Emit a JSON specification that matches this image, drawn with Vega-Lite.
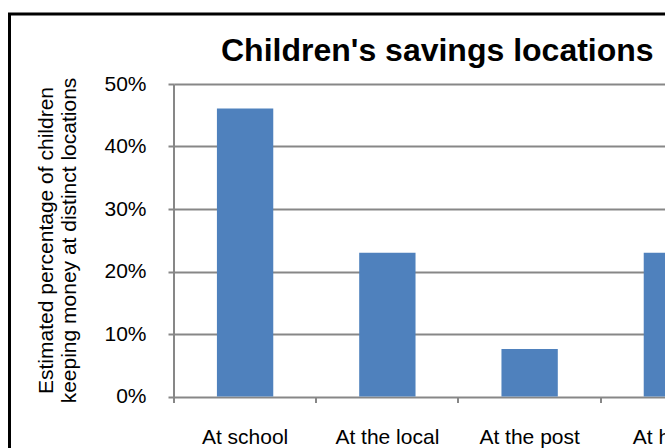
{
  "$schema": "https://vega.github.io/schema/vega-lite/v6.json",
  "width": 853.6,
  "height": 500,
  "autosize": {"type": "none"},
  "padding": {"left": 9.5, "top": 14, "right": -198.1, "bottom": -66},
  "background": "white",
  "config": {
    "view": {"stroke": "black", "strokeWidth": 3},
    "font": "Liberation Sans"
  },
  "title": {
    "text": "Children's savings locations",
    "font": "Liberation Sans",
    "fontSize": 32,
    "fontWeight": "bold",
    "color": "black",
    "anchor": "start",
    "frame": "group",
    "dx": 211.5,
    "offset": -54
  },
  "data": {
    "values": [
      {"location": "At school", "share": 0.461},
      {"location": "At the local shop", "share": 0.23},
      {"location": "At the post office", "share": 0.076},
      {"location": "At home", "share": 0.23}
    ]
  },
  "layer": [
    {
      "mark": {"type": "bar", "width": {"band": 0.396}, "color": "#4F81BD"},
      "encoding": {
        "x": {
          "field": "location", "type": "nominal", "sort": null,
          "scale": {"paddingInner": 0, "paddingOuter": 1, "align": 0.578},
          "axis": {
            "orient": "bottom", "offset": -117.5, "title": null,
            "ticks": false, "domain": false, "grid": false,
            "labelAngle": 0, "labelFont": "Liberation Sans", "labelFontSize": 21,
            "labelColor": "black", "labelPadding": 30, "labelLineHeight": 24,
            "labelExpr": "length(datum.value) > 12 ? [substring(datum.value, 0, lastindexof(datum.value, ' ')), substring(datum.value, lastindexof(datum.value, ' ') + 1)] : datum.value"
          }
        },
        "y": {
          "field": "share", "type": "quantitative",
          "scale": {"domain": [-0.188, 0.612], "nice": false, "zero": false},
          "axis": {
            "orient": "left", "offset": -164.5,
            "values": [0, 0.1, 0.2, 0.3, 0.4, 0.5], "format": ".0%",
            "domain": false, "grid": false,
            "ticks": true, "tickSize": 6, "tickColor": "#878787", "tickWidth": 2,
            "labelFont": "Liberation Sans", "labelFontSize": 21, "labelColor": "black", "labelPadding": 22,
            "title": ["Estimated percentage of children", "keeping money at distinct locations"],
            "titleFont": "Liberation Sans", "titleFontSize": 21, "titleFontWeight": "normal",
            "titleColor": "black", "titleLineHeight": 23, "titlePadding": 24, "titleY": 226
          }
        },
        "y2": {"datum": 0}
      }
    },
    {
      "mark": {"type": "bar", "opacity": 0},
      "encoding": {
        "x": {
          "field": "location", "type": "nominal", "sort": null,
          "axis": {
            "orient": "bottom", "offset": -117.5, "title": null,
            "bandPosition": 0, "labels": false, "domain": false, "grid": false,
            "ticks": true, "tickSize": 6, "tickColor": "#878787", "tickWidth": 2
          }
        },
        "y": {
          "field": "share", "type": "quantitative",
          "axis": {
            "orient": "left", "offset": -164.5, "title": null,
            "values": [0, 0.1, 0.2, 0.3, 0.4, 0.5],
            "labels": false, "domain": false, "grid": false,
            "ticks": true, "tickSize": -569, "tickColor": "#878787", "tickWidth": 2
          }
        },
        "y2": {"datum": 0}
      }
    },
    {
      "mark": {"type": "bar", "opacity": 0},
      "encoding": {
        "x": {
          "field": "location", "type": "nominal", "sort": null,
          "axis": {
            "orient": "bottom", "offset": -117.5, "title": null,
            "values": ["At school"], "bandPosition": 0,
            "labels": false, "domain": false, "grid": false,
            "ticks": true, "tickSize": -312.5, "tickColor": "#878787", "tickWidth": 2
          }
        },
        "y": {"field": "share", "type": "quantitative", "axis": null},
        "y2": {"datum": 0}
      }
    }
  ],
  "resolve": {"axis": {"x": "independent", "y": "independent"}}
}
